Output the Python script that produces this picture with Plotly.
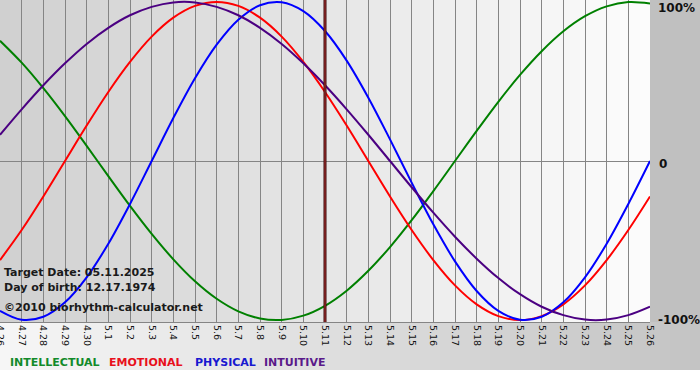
import plotly.graph_objects as go

# ---------------- data ----------------
day_labels = ["4.26", "4.27", "4.28", "4.29", "4.30",
              "5.1", "5.2", "5.3", "5.4", "5.5", "5.6", "5.7", "5.8", "5.9", "5.10",
              "5.11", "5.12", "5.13", "5.14", "5.15", "5.16", "5.17", "5.18", "5.19",
              "5.20", "5.21", "5.22", "5.23", "5.24", "5.25", "5.26"]

intellectual = [0.756, 0.618, 0.458, 0.282, 0.095, -0.095, -0.282, -0.458, -0.618, -0.756,
                -0.866, -0.945, -0.990, -0.999, -0.972, -0.910, -0.815, -0.690, -0.541, -0.372,
                -0.189, 0.000, 0.189, 0.372, 0.541, 0.690, 0.815, 0.910, 0.972, 0.999, 0.990]

emotional = [-0.623, -0.434, -0.223, 0.000, 0.223, 0.434, 0.623, 0.782, 0.901, 0.975,
             1.000, 0.975, 0.901, 0.782, 0.623, 0.434, 0.223, 0.000, -0.223, -0.434,
             -0.623, -0.782, -0.901, -0.975, -1.000, -0.975, -0.901, -0.782, -0.623, -0.434,
             -0.223]

physical = [-0.942, -0.998, -0.979, -0.888, -0.731, -0.520, -0.270, 0.000, 0.270, 0.520,
            0.731, 0.888, 0.979, 0.998, 0.942, 0.817, 0.631, 0.398, 0.136, -0.136,
            -0.398, -0.631, -0.817, -0.942, -0.998, -0.979, -0.888, -0.731, -0.520, -0.270,
            0.000]

intuitive = [0.165, 0.325, 0.476, 0.614, 0.736, 0.837, 0.916, 0.969, 0.997, 0.997,
             0.969, 0.916, 0.837, 0.736, 0.614, 0.476, 0.325, 0.165, 0.000, -0.165,
             -0.325, -0.476, -0.614, -0.736, -0.837, -0.916, -0.969, -0.997, -0.997, -0.969,
             -0.916]

series_names = ["INTELLECTUAL", "EMOTIONAL", "PHYSICAL", "INTUITIVE"]
target_label = "5.11"
right_labels = ["100%", "0", "-100%"]
right_values = [1, 0, -1]
info_lines = ["Target Date: 05.11.2025", "Day of birth: 12.17.1974",
              "\u00a92010 biorhythm-calculator.net"]

# ---------------- styling ----------------
W, H = 700, 380
ML, MR, MT, MB = 0, 50, 0, 58
PW, PH = W - ML - MR, H - MT - MB

line_colors = ["#008000", "#ff0000", "#0000ff", "#4b0082"]
text_colors = ["#128a2a", "#e8101c", "#1818d0", "#5a1a8a"]
legend_px = [8, 107, 193, 262]
GRID = "#858585"
FONT = "DejaVu Sans"


def px2paper_x(px):
    return (px - ML) / PW


def px2paper_y(py):
    return (H - MB - py) / PH


def grey(v):
    v = int(round(v))
    return f"rgb({v},{v},{v})"


x = list(range(len(day_labels)))
fig = go.Figure()
for name, vals, col in zip(series_names, [intellectual, emotional, physical, intuitive], line_colors):
    fig.add_trace(go.Scatter(x=x, y=vals, mode="lines", name=name,
                             line=dict(color=col, width=2, shape="spline", smoothing=1.0),
                             hoverinfo="skip", showlegend=False))

shapes = []
# plot-area horizontal gradient (grey -> white)
n = 65
for i in range(n):
    c = 208 + (252 - 208) * i / (n - 1)
    shapes.append(dict(type="rect", xref="paper", yref="paper",
                       x0=i / n, x1=(i + 1) / n + 0.002, y0=0, y1=1,
                       fillcolor=grey(c), line=dict(width=0), layer="below"))
# right strip
shapes.append(dict(type="rect", xref="paper", yref="paper",
                   x0=1, x1=px2paper_x(W + 1), y0=0, y1=1,
                   fillcolor="rgb(192,192,192)", line=dict(width=0), layer="below"))
# bottom band gradient (light -> grey)
n2 = 70
for i in range(n2):
    c = 246 + (196 - 246) * i / (n2 - 1)
    shapes.append(dict(type="rect", xref="paper", yref="paper",
                       x0=px2paper_x(W * i / n2), x1=px2paper_x(W * (i + 1) / n2 + 0.5),
                       y0=px2paper_y(370), y1=0,
                       fillcolor=grey(c), line=dict(width=0), layer="below"))

# target date line
ti = day_labels.index(target_label)
shapes.append(dict(type="line", xref="x", yref="paper", x0=ti, x1=ti, y0=0, y1=1,
                   line=dict(color="#3a0808", width=3), layer="above"))
shapes.append(dict(type="line", xref="x", yref="paper", x0=ti, x1=ti, y0=0, y1=1,
                   line=dict(color="#b03434", width=1), layer="above"))

annotations = []
for lab, v in zip(right_labels, right_values):
    annotations.append(dict(xref="paper", yref="y", x=1, y=v, text=f"<b>{lab}</b>",
                            showarrow=False, xanchor="left", xshift=7 if lab == "0" else 6,
                            yshift=-6 if v == 1 else (-3 if v == 0 else 0),
                            font=dict(family=FONT, size=12, color="#111")))
for txt, py in zip(info_lines, [272, 287, 307]):
    annotations.append(dict(xref="paper", yref="paper", x=px2paper_x(2), y=px2paper_y(py),
                            text=f"<b>{txt}</b>", showarrow=False, xanchor="left", yanchor="middle",
                            font=dict(family=FONT, size=11, color="#1a1a1a")))
for name, col, lx in zip(series_names, text_colors, legend_px):
    annotations.append(dict(xref="paper", yref="paper", x=px2paper_x(lx), y=px2paper_y(362),
                            text=f"<b>{name}</b>", showarrow=False, xanchor="left", yanchor="middle",
                            font=dict(family=FONT, size=11, color=col)))

fig.update_layout(
    width=W, height=H,
    margin=dict(l=ML, r=MR, t=MT, b=MB, pad=0, autoexpand=False),
    paper_bgcolor="white", plot_bgcolor="rgba(0,0,0,0)",
    shapes=shapes, annotations=annotations,
    showlegend=False,
    xaxis=dict(range=[0, len(day_labels) - 1], tickmode="array", tickvals=x, ticktext=day_labels,
               tickangle=90, tickfont=dict(family=FONT, size=9.5, color="#111"),
               ticklabeloverflow="allow", automargin=False,
               showgrid=True, gridcolor=GRID, gridwidth=1, zeroline=False,
               showline=True, linecolor=GRID, linewidth=1, ticks="", fixedrange=True),
    yaxis=dict(range=[-1.012, 1.012], tickmode="array", tickvals=[0], showticklabels=False,
               automargin=False,
               showgrid=True, gridcolor=GRID, gridwidth=1, zeroline=False, ticks="",
               fixedrange=True),
)

fig.write_html("out.html", config={"displayModeBar": False},
               post_script="document.body.style.margin='0';document.body.style.overflow='hidden';")
